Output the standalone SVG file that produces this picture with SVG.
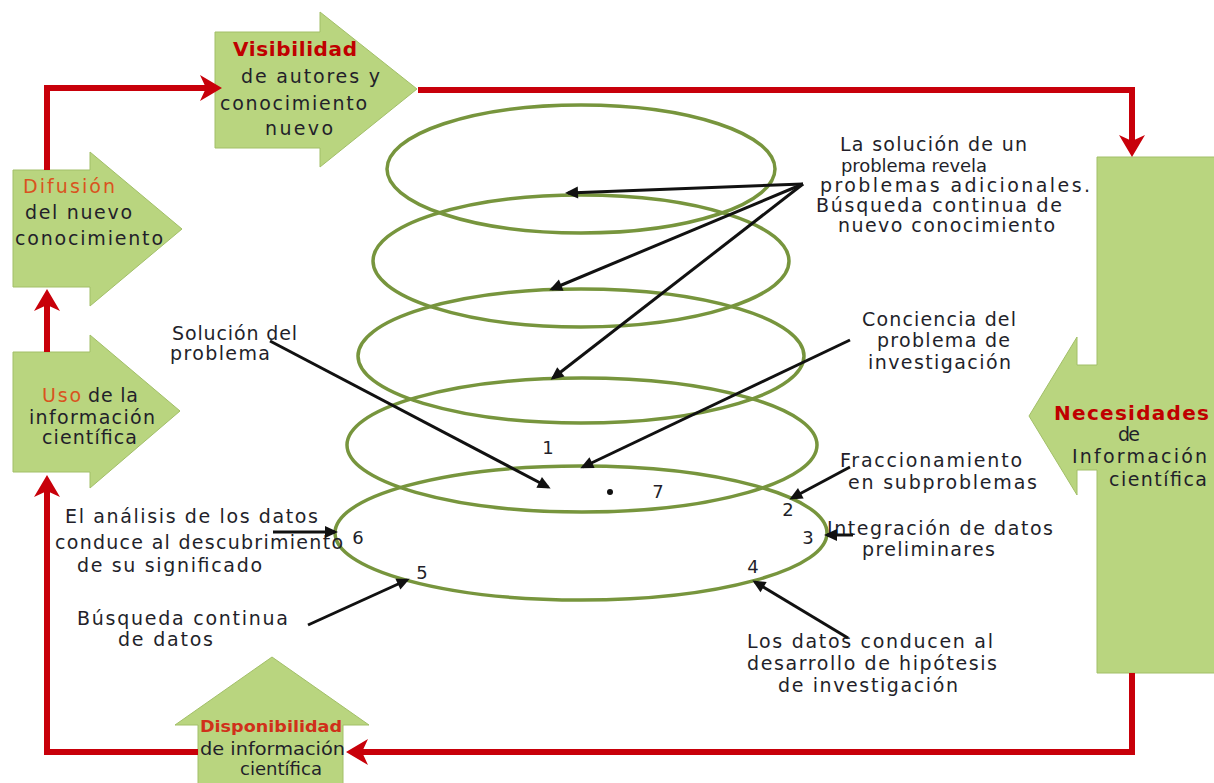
<svg xmlns="http://www.w3.org/2000/svg" width="1214" height="783" viewBox="0 0 1214 783">
<style>
.shape{fill:#b9d57f;stroke:#a2bf68;stroke-width:1}
.t{font-family:"DejaVu Sans",Verdana,sans-serif;font-size:19px;fill:#231f2a}
.tb{font-family:"DejaVu Sans",Verdana,sans-serif;font-size:20px;font-weight:bold;fill:#c00000}
.or{fill:#d9531e}
.num{font-family:"DejaVu Sans",Verdana,sans-serif;font-size:18px;fill:#231f2a;text-anchor:middle}
.ell{fill:none;stroke:#77953d;stroke-width:3.5}
.red{fill:none;stroke:#c8000a;stroke-width:6;marker-end:url(#rh)}
.blk{fill:none;stroke:#111;stroke-width:3;marker-end:url(#bh)}
</style>
<defs>
<marker id="rh" markerUnits="userSpaceOnUse" markerWidth="40" markerHeight="40" viewBox="-20 -20 40 40" refX="0" refY="0" orient="auto">
<path d="M11,0 L-11,-13 L-5,0 L-11,13 Z" fill="#c8000a"/>
</marker>
<marker id="bh" markerUnits="userSpaceOnUse" markerWidth="30" markerHeight="30" viewBox="-15 -15 30 30" refX="0" refY="0" orient="auto">
<path d="M3,0 L-10,-6 L-10,6 Z" fill="#111"/>
</marker>
</defs>
<rect width="1214" height="783" fill="#ffffff"/>

<g id="spiral">
<ellipse class="ell" cx="581" cy="169" rx="194" ry="64"/>
<ellipse class="ell" cx="581" cy="261" rx="208" ry="66"/>
<ellipse class="ell" cx="581" cy="356" rx="223" ry="67"/>
<ellipse class="ell" cx="582" cy="445" rx="235" ry="67"/>
<ellipse class="ell" cx="581" cy="533" rx="246" ry="67"/>
<circle cx="610" cy="492" r="3" fill="#111"/>
</g>

<g id="visibilidad">
<polygon class="shape" points="215,32 320,32 320,12 417,89 320,167 320,148 215,148"/>
<text class="tb" x="233" y="56" textLength="124">Visibilidad</text>
<text class="t" x="241" y="83" textLength="139">de autores y</text>
<text class="t" x="220" y="110" textLength="147">conocimiento</text>
<text class="t" x="265" y="135" textLength="68">nuevo</text>
</g>

<g id="difusion">
<polygon class="shape" points="13,170 90,170 90,152 182,229 90,306 90,287 13,287"/>
<text class="t or" x="23" y="193" textLength="92">Difusión</text>
<text class="t" x="25" y="219" textLength="107">del nuevo</text>
<text class="t" x="15" y="245" textLength="148">conocimiento</text>
</g>

<g id="uso">
<polygon class="shape" points="13,352 90,352 90,335 180,411 90,488 90,472 13,472"/>
<text class="t or" x="42" y="402" textLength="39">Uso</text>
<text class="t" x="88" y="402" textLength="50">de la</text>
<text class="t" x="29" y="424" textLength="126">información</text>
<text class="t" x="42" y="444" textLength="95">científica</text>
</g>

<g id="disponibilidad">
<polygon class="shape" points="198,790 198,725 175,725 272,657 369,725 343,725 343,790"/>
<text class="tb" x="200" y="732" style="font-size:16px;fill:#d0301a" textLength="142" lengthAdjust="spacingAndGlyphs">Disponibilidad</text>
<text class="t" x="200" y="755" style="font-size:17px" textLength="145" lengthAdjust="spacingAndGlyphs">de información</text>
<text class="t" x="240" y="775" style="font-size:17px" textLength="82" lengthAdjust="spacingAndGlyphs">científica</text>
</g>

<g id="necesidades">
<polygon class="shape" points="1097,157 1220,157 1220,673 1097,673 1097,470 1077,470 1077,495 1029,416 1077,337 1077,365 1097,365"/>
<text class="tb" x="1054" y="420" textLength="155">Necesidades</text>
<text class="t" x="1118" y="441" textLength="22">de</text>
<text class="t" x="1072" y="463" textLength="135">Información</text>
<text class="t" x="1109" y="486" textLength="98">científica</text>
</g>

<g id="label-solucion-revela">
<text class="t" x="840" y="151" textLength="187">La solución de un</text>
<text class="t" x="841" y="172" style="font-size:18px" textLength="146">problema revela</text>
<text class="t" x="820" y="192" textLength="270">problemas adicionales.</text>
<text class="t" x="816" y="212" textLength="246">Búsqueda continua de</text>
<text class="t" x="838" y="232" textLength="217">nuevo conocimiento</text>
</g>

<g id="label-conciencia">
<text class="t" x="862" y="326" textLength="154">Conciencia del</text>
<text class="t" x="877" y="347" textLength="133">problema de</text>
<text class="t" x="868" y="369" textLength="143">investigación</text>
</g>

<g id="label-solucion">
<text class="t" x="172" y="340" textLength="125">Solución del</text>
<text class="t" x="170" y="360" textLength="100">problema</text>
</g>

<g id="label-fraccionamiento">
<text class="t" x="840" y="467" textLength="182">Fraccionamiento</text>
<text class="t" x="848" y="489" textLength="189">en subproblemas</text>
</g>

<g id="label-integracion">
<text class="t" x="827" y="535" textLength="226">Integración de datos</text>
<text class="t" x="862" y="556" textLength="133">preliminares</text>
</g>

<g id="label-hipotesis">
<text class="t" x="747" y="648" textLength="246">Los datos conducen al</text>
<text class="t" x="747" y="670" textLength="250">desarrollo de hipótesis</text>
<text class="t" x="778" y="692" textLength="180">de investigación</text>
</g>

<g id="label-analisis">
<text class="t" x="65" y="523" textLength="253">El análisis de los datos</text>
<text class="t" x="55" y="549" textLength="288">conduce al descubrimiento</text>
<text class="t" x="77" y="572" textLength="185">de su significado</text>
</g>

<g id="label-busqueda">
<text class="t" x="77" y="625" textLength="211">Búsqueda continua</text>
<text class="t" x="118" y="646" textLength="95">de datos</text>
</g>

<g id="numbers">
<text class="num" x="548" y="454">1</text>
<text class="num" x="788" y="516">2</text>
<text class="num" x="808" y="544">3</text>
<text class="num" x="753" y="573">4</text>
<text class="num" x="422" y="579">5</text>
<text class="num" x="358" y="544">6</text>
<text class="num" x="658" y="498">7</text>
</g>

<g id="connectors">
<path class="red" d="M47,170 V88 H211"/>
<path class="red" d="M418,90 H1132 V146"/>
<path class="red" d="M1132,673 V752 H357"/>
<path class="red" d="M198,752 H47 V486"/>
<path class="red" d="M47,352 V300"/>
<path class="blk" d="M803,184 L568,193"/>
<path class="blk" d="M803,184 L552,289"/>
<path class="blk" d="M803,184 L553,378"/>
<path class="blk" d="M270,341 L548,487"/>
<path class="blk" d="M850,340 L583,467"/>
<path class="blk" d="M850,467 L792,498"/>
<path class="blk" d="M853,535 L827,535"/>
<path class="blk" d="M848,638 L755,582"/>
<path class="blk" d="M273,532 L335,532"/>
<path class="blk" d="M308,625 L407,580"/>
</g>
</svg>
